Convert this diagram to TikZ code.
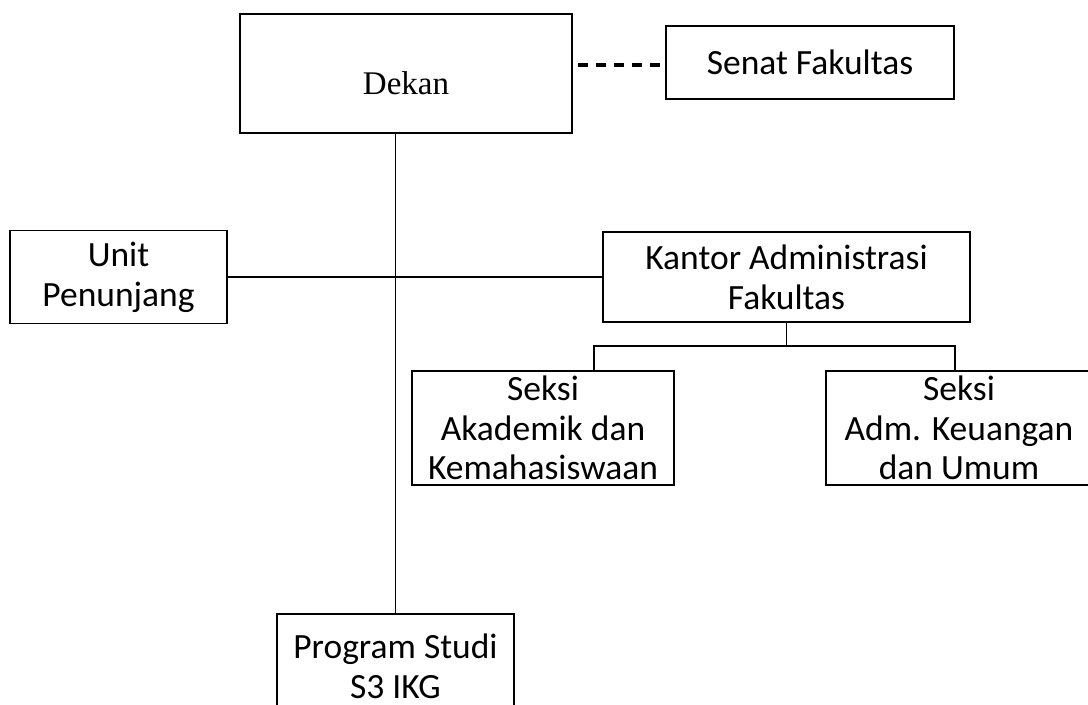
\documentclass[tikz,border=0pt]{standalone}
\usepackage{fontspec}
\setmainfont{Carlito}
\newfontfamily\dekanfont{Liberation Serif}
\usepackage{tikz}
\usetikzlibrary{
    calc,
    positioning
}
\tikzset{
    unit/.style={draw, line width=1.1pt, rectangle, inner sep=0pt, outer sep=0pt,
        align=center, font=\fontsize{20.2}{22.6}\selectfont},
    link/.style={line width=1.1pt},
    dotlink/.style={line width=2pt, dash pattern=on 5.8pt off 4.4pt}
}

\begin{document}
\begin{tikzpicture}[x=0.02cm, y=-0.02cm]
                        \clip (0, 0) rectangle (1088, 705);
                        \node[unit, minimum width=6.64cm, minimum height=2.38cm, text height=23.5pt, text depth=0pt, font=\fontsize{18.8}{22.6}\dekanfont] (dekan) at (406, 73.5) {Dekan};
                        \node[unit, minimum width=5.76cm, minimum height=1.46cm] (senat) at (810, 62.5) {Senat Fakultas};
                        \node[unit, minimum width=4.34cm, minimum height=1.86cm] (penunjang) at (118.5, 277) {Unit\\Penunjang};
                        \node[unit, minimum width=7.34cm, minimum height=1.80cm] (kantor) at (786.5, 277) {Kantor Administrasi\\Fakultas};
                        \node[unit, minimum width=5.24cm, minimum height=2.28cm] (akademik) at (543, 428) {Seksi\\Akademik dan\\Kemahasiswaan};
                        \node[unit, minimum width=5.32cm, minimum height=2.28cm] (keuangan) at (959, 428) {Seksi\\Adm. Keuangan\\dan Umum};
                        \node[unit, minimum width=4.74cm, minimum height=2.08cm] (prodi) at (395.5, 666) {Program Studi\\S3 IKG};
                        \coordinate (ak) at (594, 346);
                        \coordinate (ku) at (955, 346);
                        \coordinate (dash0) at (578, 65);
                        \draw[link]
                        (prodi.north |- dekan.south) -- (prodi.north)
                        (penunjang.east) -- (kantor.west)
                        (kantor.south) -- (kantor.south |- ak)
                        (ak |- akademik.north) -- (ak) -- (ku) -- (ku |- keuangan.north);
                        \draw[dotlink] (dash0) -- (dash0 -| senat.west);
                    \end{tikzpicture}
\end{document}
